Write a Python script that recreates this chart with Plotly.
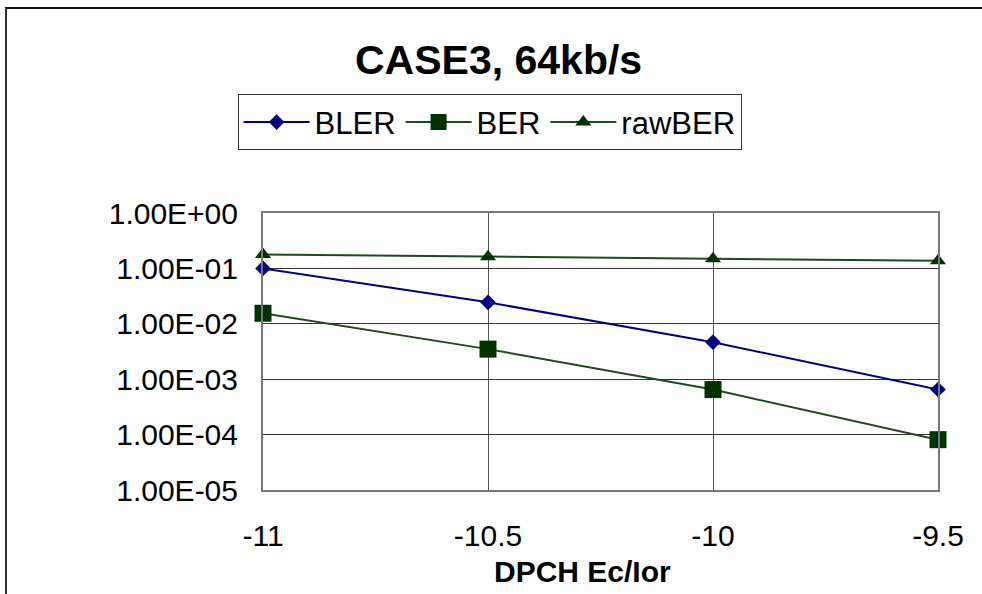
import plotly.graph_objects as go

x_vals = [-11, -10.5, -10, -9.5]
bler = [0.100, 0.0244, 0.00466, 0.00065]
ber = [0.0155, 0.00349, 0.00065, 0.000081]
raw_ber = [0.179, 0.162, 0.149, 0.137]

y_tickvals = [1e-5, 1e-4, 1e-3, 1e-2, 1e-1, 1e0]
y_ticktext = ["1.00E-05", "1.00E-04", "1.00E-03", "1.00E-02", "1.00E-01", "1.00E+00"]
x_tickvals = [-11, -10.5, -10, -9.5]
x_ticktext = ["-11", "-10.5", "-10", "-9.5"]

title_text = "CASE3, 64kb/s"
x_title = "DPCH Ec/Ior"

FONT = "Liberation Sans, Arial, sans-serif"

fig = go.Figure()
fig.add_trace(go.Scatter(x=x_vals, y=bler, name="BLER", mode="lines+markers",
                         line=dict(color="#000080", width=2),
                         marker=dict(symbol="diamond", size=12, color="#000080"),
                         cliponaxis=False))
fig.add_trace(go.Scatter(x=x_vals, y=ber, name="BER", mode="lines+markers",
                         line=dict(color="#1f4a1f", width=2),
                         marker=dict(symbol="square", size=17, color="#003300"),
                         cliponaxis=False))
fig.add_trace(go.Scatter(x=x_vals, y=raw_ber, name="rawBER", mode="lines+markers",
                         line=dict(color="#1f4a1f", width=2),
                         marker=dict(symbol="triangle-up", size=14, color="#003300"),
                         cliponaxis=False))

fig.update_layout(
    width=982, height=594,
    margin=dict(l=263, r=44, t=213, b=104),
    paper_bgcolor="white", plot_bgcolor="white",
    font=dict(family=FONT, color="black", size=30),
    showlegend=True,
    legend=dict(orientation="h", x=0.3357, xanchor="center", y=1.428, yanchor="top",
                bordercolor="#333333", borderwidth=1, bgcolor="white",
                font=dict(size=31, family=FONT), itemwidth=66),
    xaxis=dict(range=[-11, -9.5], tickvals=x_tickvals, ticktext=x_ticktext,
               showgrid=True, gridcolor="#555555", gridwidth=1,
               showline=True, linecolor="#777777", linewidth=2, mirror=True,
               ticks="outside", ticklen=18, tickcolor="rgba(0,0,0,0)",
               zeroline=False, tickfont=dict(size=30, family=FONT)),
    yaxis=dict(type="log", range=[-5, 0], tickvals=y_tickvals, ticktext=y_ticktext,
               showgrid=True, gridcolor="#333333", gridwidth=1,
               showline=True, linecolor="#777777", linewidth=2, mirror=True,
               ticks="outside", ticklen=17, tickcolor="rgba(0,0,0,0)",
               zeroline=False, tickfont=dict(size=30, family=FONT)),
    annotations=[
        dict(text="<b>" + title_text + "</b>", xref="paper", yref="paper",
             x=0.349, y=1.554, xanchor="center", yanchor="middle", showarrow=False,
             font=dict(size=41, family=FONT, color="black")),
        dict(text="<b>" + x_title + "</b>", xref="paper", yref="paper",
             x=0.4735, y=-0.296, xanchor="center", yanchor="middle", showarrow=False,
             font=dict(size=30, family=FONT, color="black")),
    ],
)

post_js = (
    "document.body.style.margin='0';"
    "document.body.style.overflow='hidden';"
    "var b=document.createElement('div');"
    "b.style.cssText='position:absolute;left:5px;top:7px;width:2000px;height:2000px;"
    "border-top:2px solid #111;border-left:2px solid #333;pointer-events:none;z-index:10;';"
    "document.body.appendChild(b);"
)

fig.write_html("out.html", config={"displayModeBar": False}, post_script=post_js)
